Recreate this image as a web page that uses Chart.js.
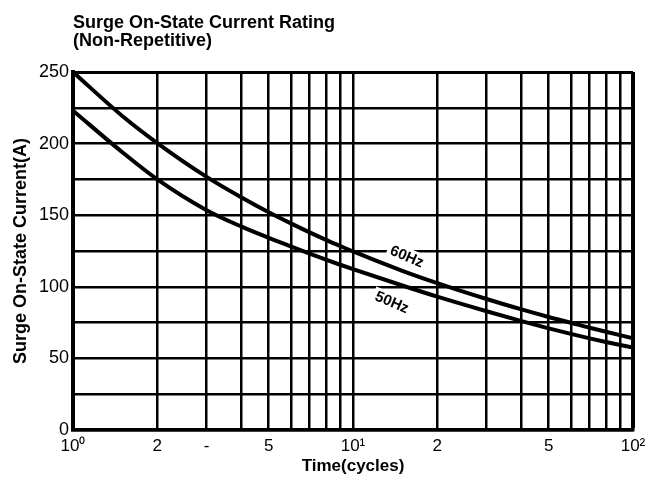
<!DOCTYPE html>
<html>
<head>
<meta charset="utf-8">
<script src="https://cdn.jsdelivr.net/npm/chart.js@4.4.1/dist/chart.umd.min.js"></script>
<style>
  html, body { margin: 0; padding: 0; background: #fff; }
  #wrap { width: 661px; height: 481px; position: relative; }
</style>
</head>
<body>
<div id="wrap"><canvas id="c" width="661" height="481"></canvas></div>
<script>
// ---- data ----
const TITLE_LINES = ["Surge On-State Current Rating", "(Non-Repetitive)"];
const X_TITLE = "Time(cycles)";
const Y_TITLE = "Surge On-State Current(A)";

const timeCycles  = [1,   1.5,   2,     3,     4,     5,     6,     7,     8,     9,     10,    15,    20,    30,   40,   50,   60,   70,   80,   100];
const current60Hz = [250, 219.3, 200.4, 176.8, 162.4, 152.1, 144.3, 138.0, 132.8, 128.5, 124.7, 111.2, 102.6, 91.5, 84.2, 78.9, 74.9, 71.4, 68.6, 64.0];
const current50Hz = [223, 194,   175,   153.5, 142,   134.2, 128.2, 123.2, 119.0, 115.4, 112.3, 100.9, 93.1,  82.9, 76.0, 71.0, 67.1, 64.0, 61.5, 57.6];

const xGridValues = [1, 2, 3, 4, 5, 6, 7, 8, 9, 10, 20, 30, 40, 50, 60, 70, 80, 90, 100];
const xTickLabels = {1: "10\u2070", 2: "2", 3: "-", 5: "5", 10: "10\u00B9", 20: "2", 50: "5", 100: "10\u00B2"};
const yLabelStep = 50;

const seriesLabels = [
  { text: "60Hz", x: 15.6, y: 121.5 },
  { text: "50Hz", x: 13.8, y: 89.5 }
];

// ---- chart ----
const FONT = '"Liberation Sans", Arial, sans-serif';

const toPts = (ys) => timeCycles.map((t, i) => ({ x: t, y: ys[i] }));

const overlay = {
  id: 'overlay',
  afterDraw(chart) {
    const ctx = chart.ctx;
    const xs = chart.scales.x, ys = chart.scales.y;
    ctx.save();
    ctx.fillStyle = '#000';
    ctx.textAlign = 'left';
    ctx.textBaseline = 'alphabetic';
    ctx.font = 'bold 18px ' + FONT;
    ctx.fillText(TITLE_LINES[0], chart.chartArea.left, 28);
    ctx.fillText(TITLE_LINES[1], chart.chartArea.left, 46);
    ctx.font = 'bold 15px ' + FONT;
    ctx.textAlign = 'center';
    ctx.textBaseline = 'middle';
    seriesLabels.forEach(l => {
      const px = xs.getPixelForValue(l.x), py = ys.getPixelForValue(l.y);
      ctx.save();
      ctx.translate(px, py);
      ctx.rotate(23 * Math.PI / 180);
      const w = ctx.measureText(l.text).width;
      ctx.fillStyle = '#fff';
      ctx.fillRect(-w / 2 - 3, -8, w + 6, 16);
      ctx.fillStyle = '#000';
      ctx.fillText(l.text, 0, 1);
      ctx.restore();
    });
    ctx.restore();
  }
};

new Chart(document.getElementById('c'), {
  type: 'line',
  data: {
    datasets: [
      { label: '60Hz', data: toPts(current60Hz), borderColor: '#000', borderWidth: 4, pointRadius: 0, cubicInterpolationMode: 'monotone', fill: false },
      { label: '50Hz', data: toPts(current50Hz), borderColor: '#000', borderWidth: 4, pointRadius: 0, cubicInterpolationMode: 'monotone', fill: false }
    ]
  },
  options: {
    responsive: false,
    animation: false,
    devicePixelRatio: 1,
    layout: { padding: { top: 72, right: 28, left: 0, bottom: 0 } },
    plugins: { legend: { display: false }, tooltip: { enabled: false }, title: { display: false } },
    scales: {
      x: {
        type: 'logarithmic',
        min: 1, max: 100,
        afterBuildTicks: (s) => { s.ticks = xGridValues.map(v => ({ value: v })); },
        afterFit: (s) => { s.height = 51; },
        ticks: {
          autoSkip: false, maxRotation: 0, padding: 6,
          color: '#000',
          font: { family: FONT, size: 17 },
          callback: (v) => (xTickLabels[v] !== undefined ? xTickLabels[v] : '')
        },
        grid: {
          color: '#000',
          drawTicks: false,
          lineWidth: (c) => (c.tick && c.tick.value === 100 ? 4 : 2.5)
        },
        border: { display: true, color: '#000', width: 3.5 },
        title: {
          display: true, text: X_TITLE, color: '#000',
          font: { family: FONT, size: 17, weight: 'bold' },
          padding: { top: 0, bottom: 4 }
        }
      },
      y: {
        min: 0, max: 250,
        afterFit: (s) => { s.width = 73; },
        ticks: {
          stepSize: 25, padding: 4, color: '#000',
          font: { family: FONT, size: 18 },
          callback: (v) => (v % yLabelStep === 0 ? String(v) : '')
        },
        grid: {
          color: '#000',
          drawTicks: false,
          lineWidth: (c) => (c.tick && c.tick.value === 250 ? 3 : 2.5)
        },
        border: { display: true, color: '#000', width: 4 },
        title: {
          display: true, text: Y_TITLE, color: '#000',
          font: { family: FONT, size: 18, weight: 'bold' },
          padding: { top: 10, bottom: 0 }
        }
      }
    }
  },
  plugins: [overlay]
});
</script>
</body>
</html>
